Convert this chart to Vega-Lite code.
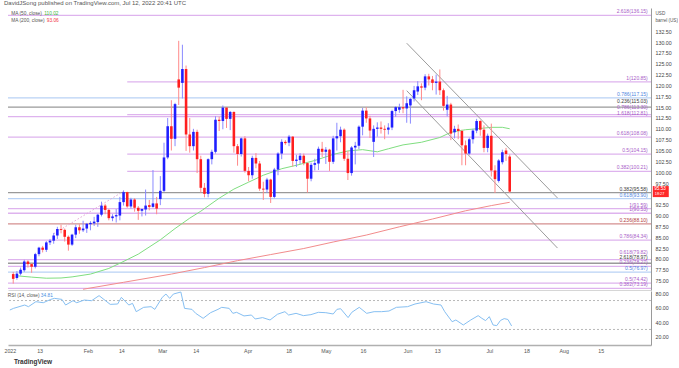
{
"$schema": "https://vega.github.io/schema/vega-lite/v6.json",
"padding": {"left": 3, "top": 0, "right": 0, "bottom": 0},
"background": "white",
"title": {"text": "DavidJSong published on TradingView.com, Jul 12, 2022 20:41 UTC", "anchor": "start", "fontSize": 6, "fontWeight": "normal", "color": "#555555", "font": "Liberation Sans", "offset": 2},
"config": {"view": {"stroke": null}, "font": "Liberation Sans", "axis": {"labelFont": "Liberation Sans", "titleFont": "Liberation Sans", "labelOverlap": false}},
"spacing": 0,
"datasets": {
"ohlc": [
{"d":"2022-01-03","o":76.5,"h":77.0,"l":74.3,"c":75.4},
{"d":"2022-01-04","o":75.6,"h":77.2,"l":75.2,"c":76.6},
{"d":"2022-01-05","o":76.6,"h":78.0,"l":76.2,"c":77.5},
{"d":"2022-01-06","o":77.4,"h":79.8,"l":77.0,"c":79.4},
{"d":"2022-01-07","o":79.4,"h":79.7,"l":78.0,"c":78.8},
{"d":"2022-01-10","o":78.8,"h":79.0,"l":76.8,"c":78.2},
{"d":"2022-01-11","o":78.2,"h":81.4,"l":77.8,"c":81.1},
{"d":"2022-01-12","o":81.1,"h":82.8,"l":80.6,"c":82.6},
{"d":"2022-01-13","o":82.6,"h":83.0,"l":81.5,"c":82.1},
{"d":"2022-01-14","o":82.1,"h":84.1,"l":81.6,"c":83.8},
{"d":"2022-01-17","o":83.8,"h":84.6,"l":83.2,"c":84.2},
{"d":"2022-01-18","o":84.2,"h":86.0,"l":83.5,"c":85.4},
{"d":"2022-01-19","o":85.4,"h":87.4,"l":84.6,"c":86.9},
{"d":"2022-01-20","o":86.9,"h":87.9,"l":85.9,"c":86.7},
{"d":"2022-01-21","o":86.7,"h":87.0,"l":84.0,"c":85.1},
{"d":"2022-01-24","o":85.1,"h":85.4,"l":81.9,"c":83.3},
{"d":"2022-01-25","o":83.3,"h":85.8,"l":83.0,"c":85.6},
{"d":"2022-01-26","o":85.6,"h":87.9,"l":84.8,"c":87.3},
{"d":"2022-01-27","o":87.3,"h":88.0,"l":85.8,"c":86.6},
{"d":"2022-01-28","o":86.6,"h":88.8,"l":86.2,"c":87.0},
{"d":"2022-01-31","o":87.0,"h":88.3,"l":86.0,"c":88.1},
{"d":"2022-02-01","o":88.0,"h":88.7,"l":86.6,"c":88.3},
{"d":"2022-02-02","o":88.2,"h":89.7,"l":87.6,"c":88.6},
{"d":"2022-02-03","o":88.5,"h":90.4,"l":87.4,"c":90.2},
{"d":"2022-02-04","o":90.2,"h":93.2,"l":89.8,"c":92.3},
{"d":"2022-02-07","o":92.3,"h":92.7,"l":90.3,"c":91.3},
{"d":"2022-02-08","o":91.3,"h":91.5,"l":88.9,"c":89.4},
{"d":"2022-02-09","o":89.4,"h":90.3,"l":88.7,"c":89.8},
{"d":"2022-02-10","o":89.8,"h":91.5,"l":88.4,"c":90.1},
{"d":"2022-02-11","o":90.0,"h":94.3,"l":88.9,"c":93.1},
{"d":"2022-02-14","o":93.1,"h":95.8,"l":92.3,"c":95.4},
{"d":"2022-02-15","o":95.4,"h":95.5,"l":91.8,"c":92.1},
{"d":"2022-02-16","o":92.1,"h":94.1,"l":91.6,"c":93.7},
{"d":"2022-02-17","o":93.7,"h":94.0,"l":90.9,"c":91.8},
{"d":"2022-02-18","o":91.8,"h":92.2,"l":89.0,"c":91.1},
{"d":"2022-02-21","o":91.1,"h":91.6,"l":89.8,"c":91.5},
{"d":"2022-02-22","o":91.4,"h":96.0,"l":90.0,"c":92.3},
{"d":"2022-02-23","o":92.4,"h":93.6,"l":91.2,"c":92.0},
{"d":"2022-02-24","o":92.0,"h":100.5,"l":91.8,"c":92.8},
{"d":"2022-02-25","o":92.8,"h":94.3,"l":90.3,"c":91.6},
{"d":"2022-02-28","o":93.8,"h":99.1,"l":92.4,"c":95.7},
{"d":"2022-03-01","o":95.7,"h":106.8,"l":95.4,"c":103.4},
{"d":"2022-03-02","o":103.4,"h":112.5,"l":103.0,"c":110.6},
{"d":"2022-03-03","o":110.6,"h":116.6,"l":105.0,"c":107.7},
{"d":"2022-03-04","o":107.7,"h":116.0,"l":106.0,"c":115.7},
{"d":"2022-03-07","o":121.4,"h":130.3,"l":115.5,"c":119.5},
{"d":"2022-03-08","o":120.6,"h":129.4,"l":117.0,"c":123.8},
{"d":"2022-03-09","o":123.8,"h":124.6,"l":104.9,"c":108.7},
{"d":"2022-03-10","o":108.7,"h":112.5,"l":104.5,"c":106.0},
{"d":"2022-03-11","o":106.0,"h":110.0,"l":105.0,"c":109.3},
{"d":"2022-03-14","o":109.3,"h":109.8,"l":99.8,"c":103.0},
{"d":"2022-03-15","o":103.0,"h":103.8,"l":95.3,"c":96.4},
{"d":"2022-03-16","o":96.4,"h":97.5,"l":94.2,"c":95.0},
{"d":"2022-03-17","o":95.0,"h":103.2,"l":94.2,"c":103.0},
{"d":"2022-03-18","o":103.0,"h":105.2,"l":101.8,"c":104.7},
{"d":"2022-03-21","o":104.7,"h":112.9,"l":104.3,"c":112.1},
{"d":"2022-03-22","o":112.1,"h":112.8,"l":109.5,"c":111.8},
{"d":"2022-03-23","o":111.8,"h":115.4,"l":109.9,"c":114.9},
{"d":"2022-03-24","o":114.9,"h":115.0,"l":110.2,"c":112.3},
{"d":"2022-03-25","o":112.3,"h":114.1,"l":109.7,"c":113.9},
{"d":"2022-03-28","o":113.9,"h":114.0,"l":104.5,"c":106.0},
{"d":"2022-03-29","o":106.0,"h":106.5,"l":101.5,"c":104.2},
{"d":"2022-03-30","o":104.2,"h":108.0,"l":103.6,"c":107.8},
{"d":"2022-03-31","o":107.8,"h":108.3,"l":99.9,"c":100.3},
{"d":"2022-04-01","o":100.3,"h":101.2,"l":97.9,"c":99.3},
{"d":"2022-04-04","o":99.3,"h":103.8,"l":98.5,"c":103.3},
{"d":"2022-04-05","o":103.3,"h":104.4,"l":100.9,"c":102.0},
{"d":"2022-04-06","o":102.0,"h":102.6,"l":95.7,"c":96.2},
{"d":"2022-04-07","o":96.2,"h":97.8,"l":93.6,"c":96.0},
{"d":"2022-04-08","o":96.0,"h":98.7,"l":95.2,"c":98.3},
{"d":"2022-04-11","o":98.3,"h":98.5,"l":92.9,"c":94.3},
{"d":"2022-04-12","o":94.3,"h":101.0,"l":94.0,"c":100.6},
{"d":"2022-04-13","o":100.6,"h":104.6,"l":99.3,"c":104.3},
{"d":"2022-04-14","o":104.3,"h":107.6,"l":103.0,"c":107.0},
{"d":"2022-04-15","o":107.0,"h":107.4,"l":106.3,"c":106.7},
{"d":"2022-04-18","o":106.8,"h":108.6,"l":106.0,"c":108.2},
{"d":"2022-04-19","o":108.2,"h":108.3,"l":101.3,"c":102.6},
{"d":"2022-04-20","o":102.6,"h":104.0,"l":101.2,"c":102.9},
{"d":"2022-04-21","o":102.8,"h":104.4,"l":101.9,"c":103.8},
{"d":"2022-04-22","o":103.8,"h":104.3,"l":101.6,"c":102.1},
{"d":"2022-04-25","o":102.1,"h":102.3,"l":95.3,"c":98.5},
{"d":"2022-04-26","o":98.5,"h":102.2,"l":97.9,"c":101.7},
{"d":"2022-04-27","o":101.7,"h":103.1,"l":100.4,"c":102.1},
{"d":"2022-04-28","o":102.0,"h":105.9,"l":100.5,"c":105.4},
{"d":"2022-04-29","o":105.4,"h":107.0,"l":103.5,"c":104.7},
{"d":"2022-05-02","o":104.7,"h":105.8,"l":101.9,"c":105.2},
{"d":"2022-05-03","o":105.2,"h":105.4,"l":100.3,"c":102.4},
{"d":"2022-05-04","o":102.4,"h":108.4,"l":101.9,"c":107.8},
{"d":"2022-05-05","o":107.8,"h":111.4,"l":105.0,"c":108.3},
{"d":"2022-05-06","o":108.3,"h":110.5,"l":106.9,"c":109.8},
{"d":"2022-05-09","o":109.8,"h":110.1,"l":102.6,"c":103.1},
{"d":"2022-05-10","o":103.1,"h":104.9,"l":98.2,"c":99.8},
{"d":"2022-05-11","o":99.8,"h":106.0,"l":99.2,"c":105.7},
{"d":"2022-05-12","o":105.7,"h":107.0,"l":101.8,"c":106.1},
{"d":"2022-05-13","o":106.1,"h":110.8,"l":105.3,"c":110.5},
{"d":"2022-05-16","o":110.5,"h":114.8,"l":108.5,"c":114.2},
{"d":"2022-05-17","o":114.2,"h":115.0,"l":111.4,"c":112.4},
{"d":"2022-05-18","o":112.4,"h":113.0,"l":107.9,"c":109.6},
{"d":"2022-05-19","o":107.0,"h":110.8,"l":103.5,"c":110.0},
{"d":"2022-05-20","o":110.0,"h":111.5,"l":108.2,"c":110.3},
{"d":"2022-05-23","o":110.3,"h":111.7,"l":108.9,"c":110.0},
{"d":"2022-05-24","o":110.0,"h":110.8,"l":107.6,"c":109.8},
{"d":"2022-05-25","o":109.8,"h":111.3,"l":108.7,"c":110.3},
{"d":"2022-05-26","o":110.3,"h":114.4,"l":109.7,"c":114.1},
{"d":"2022-05-27","o":114.1,"h":115.2,"l":112.8,"c":115.0},
{"d":"2022-05-30","o":114.4,"h":115.8,"l":113.7,"c":115.0},
{"d":"2022-05-31","o":115.0,"h":119.0,"l":113.6,"c":114.7},
{"d":"2022-06-01","o":114.7,"h":117.5,"l":111.4,"c":115.9},
{"d":"2022-06-02","o":115.4,"h":117.1,"l":111.2,"c":116.9},
{"d":"2022-06-03","o":117.0,"h":119.9,"l":116.3,"c":118.9},
{"d":"2022-06-06","o":118.6,"h":121.0,"l":117.8,"c":119.8},
{"d":"2022-06-07","o":119.8,"h":120.5,"l":116.6,"c":119.5},
{"d":"2022-06-08","o":119.5,"h":122.6,"l":118.9,"c":122.1},
{"d":"2022-06-09","o":122.1,"h":122.7,"l":120.0,"c":121.4},
{"d":"2022-06-10","o":121.4,"h":122.2,"l":118.9,"c":120.6},
{"d":"2022-06-13","o":120.6,"h":122.5,"l":117.9,"c":120.9},
{"d":"2022-06-14","o":120.9,"h":123.7,"l":117.8,"c":118.9},
{"d":"2022-06-15","o":118.9,"h":119.3,"l":114.2,"c":115.3},
{"d":"2022-06-16","o":114.4,"h":117.6,"l":112.9,"c":115.6},
{"d":"2022-06-17","o":115.6,"h":116.0,"l":107.4,"c":108.9},
{"d":"2022-06-20","o":109.2,"h":110.7,"l":107.8,"c":110.0},
{"d":"2022-06-21","o":110.0,"h":111.0,"l":107.6,"c":109.5},
{"d":"2022-06-22","o":109.5,"h":109.8,"l":101.6,"c":106.2},
{"d":"2022-06-23","o":106.2,"h":107.3,"l":101.6,"c":104.3},
{"d":"2022-06-24","o":104.3,"h":108.0,"l":104.0,"c":107.6},
{"d":"2022-06-27","o":107.6,"h":110.0,"l":106.6,"c":109.6},
{"d":"2022-06-28","o":109.6,"h":112.3,"l":109.0,"c":111.8},
{"d":"2022-06-29","o":111.8,"h":112.0,"l":108.4,"c":109.8},
{"d":"2022-06-30","o":109.8,"h":110.8,"l":104.6,"c":105.6},
{"d":"2022-07-01","o":105.6,"h":108.9,"l":104.6,"c":108.4},
{"d":"2022-07-05","o":108.4,"h":111.2,"l":99.0,"c":100.4},
{"d":"2022-07-06","o":100.4,"h":101.6,"l":95.2,"c":98.4},
{"d":"2022-07-07","o":98.0,"h":103.0,"l":97.6,"c":102.7},
{"d":"2022-07-08","o":102.3,"h":105.2,"l":101.8,"c":104.6},
{"d":"2022-07-11","o":105.0,"h":105.6,"l":102.6,"c":104.2},
{"d":"2022-07-12","o":103.6,"h":104.1,"l":95.2,"c":95.53}
],
"ma": [
{"ma":"MA 50","d":"2022-01-04","v":76.1},{"ma":"MA 50","d":"2022-01-10","v":75.8},{"ma":"MA 50","d":"2022-01-14","v":75.55},{"ma":"MA 50","d":"2022-01-20","v":75.6},{"ma":"MA 50","d":"2022-01-25","v":75.85},{"ma":"MA 50","d":"2022-02-01","v":76.5},{"ma":"MA 50","d":"2022-02-08","v":77.8},{"ma":"MA 50","d":"2022-02-11","v":79.0},{"ma":"MA 50","d":"2022-02-18","v":81.1},{"ma":"MA 50","d":"2022-02-28","v":84.4},{"ma":"MA 50","d":"2022-03-04","v":87.0},{"ma":"MA 50","d":"2022-03-10","v":89.4},{"ma":"MA 50","d":"2022-03-15","v":91.0},{"ma":"MA 50","d":"2022-03-22","v":94.0},{"ma":"MA 50","d":"2022-03-28","v":96.1},{"ma":"MA 50","d":"2022-04-01","v":97.7},{"ma":"MA 50","d":"2022-04-07","v":99.3},{"ma":"MA 50","d":"2022-04-14","v":100.8},{"ma":"MA 50","d":"2022-04-20","v":101.6},{"ma":"MA 50","d":"2022-04-27","v":102.7},{"ma":"MA 50","d":"2022-05-04","v":104.1},{"ma":"MA 50","d":"2022-05-10","v":104.9},{"ma":"MA 50","d":"2022-05-16","v":105.2},{"ma":"MA 50","d":"2022-05-20","v":104.7},{"ma":"MA 50","d":"2022-05-25","v":105.4},{"ma":"MA 50","d":"2022-05-31","v":106.3},{"ma":"MA 50","d":"2022-06-07","v":106.9},{"ma":"MA 50","d":"2022-06-14","v":108.0},{"ma":"MA 50","d":"2022-06-17","v":109.2},{"ma":"MA 50","d":"2022-06-23","v":109.8},{"ma":"MA 50","d":"2022-06-28","v":110.0},{"ma":"MA 50","d":"2022-07-05","v":110.35},{"ma":"MA 50","d":"2022-07-08","v":110.35},{"ma":"MA 50","d":"2022-07-12","v":110.02},
{"ma":"MA 200","d":"2022-01-28","v":73.0},{"ma":"MA 200","d":"2022-02-14","v":74.6},{"ma":"MA 200","d":"2022-03-03","v":76.5},{"ma":"MA 200","d":"2022-03-16","v":78.0},{"ma":"MA 200","d":"2022-03-29","v":79.6},{"ma":"MA 200","d":"2022-04-11","v":81.0},{"ma":"MA 200","d":"2022-04-22","v":82.4},{"ma":"MA 200","d":"2022-05-04","v":83.9},{"ma":"MA 200","d":"2022-05-17","v":85.5},{"ma":"MA 200","d":"2022-05-30","v":87.4},{"ma":"MA 200","d":"2022-06-10","v":89.2},{"ma":"MA 200","d":"2022-06-23","v":91.1},{"ma":"MA 200","d":"2022-07-05","v":92.3},{"ma":"MA 200","d":"2022-07-12","v":93.06}
],
"rsi": [
{"d":"2022-01-03","v":56.9},{"d":"2022-01-04","v":59.2},{"d":"2022-01-07","v":63.8},{"d":"2022-01-10","v":61.5},{"d":"2022-01-12","v":68.4},{"d":"2022-01-14","v":67.0},{"d":"2022-01-18","v":71.6},{"d":"2022-01-19","v":73.0},{"d":"2022-01-21","v":71.6},{"d":"2022-01-24","v":63.8},{"d":"2022-01-26","v":69.8},{"d":"2022-01-27","v":67.0},{"d":"2022-01-31","v":70.7},{"d":"2022-02-02","v":69.8},{"d":"2022-02-04","v":76.8},{"d":"2022-02-09","v":64.7},{"d":"2022-02-11","v":65.2},{"d":"2022-02-14","v":74.4},{"d":"2022-02-16","v":63.8},{"d":"2022-02-17","v":66.1},{"d":"2022-02-18","v":54.6},{"d":"2022-02-22","v":60.6},{"d":"2022-02-24","v":61.5},{"d":"2022-02-25","v":57.8},{"d":"2022-03-01","v":74.4},{"d":"2022-03-02","v":79.0},{"d":"2022-03-03","v":73.0},{"d":"2022-03-04","v":79.0},{"d":"2022-03-08","v":81.8},{"d":"2022-03-09","v":59.2},{"d":"2022-03-11","v":57.8},{"d":"2022-03-14","v":52.3},{"d":"2022-03-16","v":45.4},{"d":"2022-03-18","v":53.2},{"d":"2022-03-22","v":57.8},{"d":"2022-03-23","v":60.6},{"d":"2022-03-25","v":59.2},{"d":"2022-03-28","v":52.3},{"d":"2022-03-29","v":53.7},{"d":"2022-03-31","v":48.7},{"d":"2022-04-04","v":50.0},{"d":"2022-04-05","v":44.5},{"d":"2022-04-07","v":46.4},{"d":"2022-04-11","v":43.1},{"d":"2022-04-13","v":51.0},{"d":"2022-04-15","v":54.6},{"d":"2022-04-18","v":50.0},{"d":"2022-04-20","v":52.3},{"d":"2022-04-22","v":49.1},{"d":"2022-04-26","v":50.5},{"d":"2022-04-28","v":53.7},{"d":"2022-05-02","v":53.2},{"d":"2022-05-04","v":51.4},{"d":"2022-05-05","v":57.8},{"d":"2022-05-06","v":58.7},{"d":"2022-05-10","v":46.4},{"d":"2022-05-11","v":53.7},{"d":"2022-05-13","v":60.6},{"d":"2022-05-17","v":52.3},{"d":"2022-05-19","v":54.6},{"d":"2022-05-23","v":54.6},{"d":"2022-05-25","v":55.5},{"d":"2022-05-27","v":60.6},{"d":"2022-06-01","v":61.5},{"d":"2022-06-03","v":65.2},{"d":"2022-06-08","v":68.4},{"d":"2022-06-10","v":65.2},{"d":"2022-06-14","v":63.8},{"d":"2022-06-15","v":54.6},{"d":"2022-06-17","v":40.7},{"d":"2022-06-20","v":43.1},{"d":"2022-06-22","v":36.2},{"d":"2022-06-24","v":43.1},{"d":"2022-06-28","v":49.1},{"d":"2022-06-29","v":45.4},{"d":"2022-06-30","v":42.2},{"d":"2022-07-01","v":47.7},{"d":"2022-07-05","v":36.2},{"d":"2022-07-06","v":35.3},{"d":"2022-07-07","v":42.5},{"d":"2022-07-08","v":45.0},{"d":"2022-07-11","v":43.8},{"d":"2022-07-12","v":34.81}
],
"fib": [
{"y":136.15,"label":"2.618(136.15)","tool":"A"},
{"y":120.85,"label":"1(120.85)","tool":"A","d":"2022-02-15"},
{"y":117.15,"label":"0.786(117.15)","tool":"B"},
{"y":115.03,"label":"0.236(115.03)","tool":"C"},
{"y":113.3,"label":"0.786(113.30)","tool":"A","d":"2022-02-15"},
{"y":112.81,"label":"1.618(112.81)","tool":"A"},
{"y":108.08,"label":"0.618(108.08)","tool":"A"},
{"y":104.15,"label":"0.5(104.15)","tool":"A","d":"2022-02-15"},
{"y":100.21,"label":"0.382(100.21)","tool":"A","d":"2022-02-15"},
{"y":95.3,"label":"0.382(95.58)","tool":"C"},
{"y":93.9,"label":"0.618(93.90)","tool":"B"},
{"y":91.59,"label":"1(91.59)","tool":"A"},
{"y":90.53,"label":"1(90.53)","tool":"A"},
{"y":88.1,"label":"0.236(88.10)","tool":"D"},
{"y":84.34,"label":"0.786(84.34)","tool":"A"},
{"y":79.82,"label":"0.618(79.82)","tool":"A"},
{"y":79.0,"label":"2.618(78.97)","tool":"C"},
{"y":78.27,"label":"0.236(78.27)","tool":"A"},
{"y":76.97,"label":"0.5(76.97)","tool":"B"},
{"y":74.42,"label":"0.5(74.42)","tool":"A"},
{"y":73.19,"label":"0.382(73.19)","tool":"A"}
],
"channel": [
{"line":"upper","d":"2022-06-01","v":129.75},{"line":"upper","d":"2022-07-29","v":94.05},
{"line":"lower","d":"2022-06-01","v":118.8},{"line":"lower","d":"2022-07-29","v":82.5}
],
"trend": [{"d":"2022-01-18","v":85.8},{"d":"2022-02-14","v":95.6}],
"last": [{"d":"2022-09-01","v":95.53,"price":"95.53","timer":"18:27"}]
},
"vconcat": [
{
"width": 643, "height": 282,
"layer": [
{
"data": {"name": "fib"},
"transform": [{"filter": "!datum.d"}],
"mark": {"type": "rule", "strokeWidth": 1.3},
"encoding": {
"y": {"field": "y", "type": "quantitative", "scale": {"domain": [72.83, 137.87], "nice": false, "zero": false},
"axis": {"orient": "right", "values": [75,77.5,80,82.5,85,87.5,90,92.5,97.5,100,102.5,105,107.5,110,112.5,115,117.5,120,122.5,125,127.5,130,132.5], "tickCount": 40, "format": ".2f", "labelFontSize": 5.3, "labelColor": "#444444", "ticks": false, "labelPadding": 4, "labelOverlap": false, "domainColor": "#9a9a9a", "grid": false,
"title": ["USD", "barrel (US)"], "titleAngle": 0, "titleAlign": "left", "titleBaseline": "top", "titleX": 4, "titleY": 2, "titleFontSize": 4.6, "titleFontWeight": "normal", "titleColor": "#555555", "titleLineHeight": 7}},
"color": {"field": "tool", "type": "nominal", "scale": {"domain": ["A","B","C","D"], "range": ["#deb3ee","#b9d2f5","#9a9a9a","#d48f8f"]}, "legend": null}
}
},
{
"encoding": {"x": {"field": "d", "type": "ordinal",
"scale": {"paddingInner": 0, "paddingOuter": 0.92, "domain": ["2022-01-03","2022-01-04","2022-01-05","2022-01-06","2022-01-07","2022-01-10","2022-01-11","2022-01-12","2022-01-13","2022-01-14","2022-01-17","2022-01-18","2022-01-19","2022-01-20","2022-01-21","2022-01-24","2022-01-25","2022-01-26","2022-01-27","2022-01-28","2022-01-31","2022-02-01","2022-02-02","2022-02-03","2022-02-04","2022-02-07","2022-02-08","2022-02-09","2022-02-10","2022-02-11","2022-02-14","2022-02-15","2022-02-16","2022-02-17","2022-02-18","2022-02-21","2022-02-22","2022-02-23","2022-02-24","2022-02-25","2022-02-28","2022-03-01","2022-03-02","2022-03-03","2022-03-04","2022-03-07","2022-03-08","2022-03-09","2022-03-10","2022-03-11","2022-03-14","2022-03-15","2022-03-16","2022-03-17","2022-03-18","2022-03-21","2022-03-22","2022-03-23","2022-03-24","2022-03-25","2022-03-28","2022-03-29","2022-03-30","2022-03-31","2022-04-01","2022-04-04","2022-04-05","2022-04-06","2022-04-07","2022-04-08","2022-04-11","2022-04-12","2022-04-13","2022-04-14","2022-04-15","2022-04-18","2022-04-19","2022-04-20","2022-04-21","2022-04-22","2022-04-25","2022-04-26","2022-04-27","2022-04-28","2022-04-29","2022-05-02","2022-05-03","2022-05-04","2022-05-05","2022-05-06","2022-05-09","2022-05-10","2022-05-11","2022-05-12","2022-05-13","2022-05-16","2022-05-17","2022-05-18","2022-05-19","2022-05-20","2022-05-23","2022-05-24","2022-05-25","2022-05-26","2022-05-27","2022-05-30","2022-05-31","2022-06-01","2022-06-02","2022-06-03","2022-06-06","2022-06-07","2022-06-08","2022-06-09","2022-06-10","2022-06-13","2022-06-14","2022-06-15","2022-06-16","2022-06-17","2022-06-20","2022-06-21","2022-06-22","2022-06-23","2022-06-24","2022-06-27","2022-06-28","2022-06-29","2022-06-30","2022-07-01","2022-07-05","2022-07-06","2022-07-07","2022-07-08","2022-07-11","2022-07-12","2022-07-13","2022-07-14","2022-07-15","2022-07-18","2022-07-19","2022-07-20","2022-07-21","2022-07-22","2022-07-25","2022-07-26","2022-07-27","2022-07-28","2022-07-29","2022-08-01","2022-08-02","2022-08-03","2022-08-04","2022-08-05","2022-08-08","2022-08-09","2022-08-10","2022-08-11","2022-08-12","2022-08-15","2022-08-16","2022-08-17","2022-08-18","2022-08-19","2022-08-22","2022-08-23","2022-08-24","2022-08-25","2022-08-26","2022-08-29","2022-08-30","2022-08-31","2022-09-01"]},
"axis": {"labels": false, "ticks": false, "title": null, "grid": false, "domainColor": "#d6d6d6"}}},
"layer": [
{
"data": {"name": "fib"},
"transform": [{"filter": "datum.d"}],
"mark": {"type": "rule", "strokeWidth": 1.3},
"encoding": {
"x2": {"value": "width"},
"y": {"field": "y", "type": "quantitative", "scale": {"domain": [72.83, 137.87], "nice": false, "zero": false}},
"color": {"field": "tool", "type": "nominal", "legend": null}
}
},
{
"data": {"name": "fib"},
"transform": [{"filter": "datum.y != 113.3 && datum.y != 115.03 && datum.y != 79.82 && datum.y != 79.0"}],
"mark": {"type": "text", "align": "right", "baseline": "bottom", "dx": 2, "dy": -1, "fontSize": 5},
"encoding": {
"x": {"datum": "2022-09-01", "type": "ordinal"},
"y": {"field": "y", "type": "quantitative", "scale": {"domain": [72.83, 137.87], "nice": false, "zero": false}},
"text": {"field": "label"},
"fill": {"field": "tool", "type": "nominal", "scale": {"domain": ["A","B","C","D"], "range": ["#a85cc8","#4f86e0","#3a3a3a","#b03a3a"]}, "legend": null}
}
},
{
"data": {"name": "fib"},
"transform": [{"filter": "datum.y == 115.03 || datum.y == 79.0"}],
"mark": {"type": "text", "align": "right", "baseline": "bottom", "dx": 2, "dy": -2.8, "fontSize": 5},
"encoding": {
"x": {"datum": "2022-09-01", "type": "ordinal"},
"y": {"field": "y", "type": "quantitative", "scale": {"domain": [72.83, 137.87], "nice": false, "zero": false}},
"text": {"field": "label"},
"fill": {"field": "tool", "type": "nominal", "legend": null}
}
},
{
"data": {"name": "fib"},
"transform": [{"filter": "datum.y == 113.3 || datum.y == 79.82"}],
"mark": {"type": "text", "align": "right", "baseline": "bottom", "dx": 2, "dy": -4.5, "fontSize": 5},
"encoding": {
"x": {"datum": "2022-09-01", "type": "ordinal"},
"y": {"field": "y", "type": "quantitative", "scale": {"domain": [72.83, 137.87], "nice": false, "zero": false}},
"text": {"field": "label"},
"fill": {"field": "tool", "type": "nominal", "legend": null}
}
},
{
"data": {"name": "trend"},
"mark": {"type": "line", "strokeDash": [1.5, 2], "strokeWidth": 1, "color": "#e3a3d6"},
"encoding": {"y": {"field": "v", "type": "quantitative", "scale": {"domain": [72.83, 137.87], "nice": false, "zero": false}}}
},
{
"data": {"name": "ma"},
"mark": {"type": "line", "strokeWidth": 1, "clip": true},
"encoding": {
"y": {"field": "v", "type": "quantitative", "scale": {"domain": [72.83, 137.87], "nice": false, "zero": false}},
"stroke": {"field": "ma", "type": "nominal", "scale": {"domain": ["MA 50","MA 200"], "range": ["#80de80","#f28c8c"]}, "legend": null}
}
},
{
"data": {"name": "channel"},
"mark": {"type": "line", "strokeWidth": 1, "color": "#9c9c9c"},
"encoding": {
"y": {"field": "v", "type": "quantitative", "scale": {"domain": [72.83, 137.87], "nice": false, "zero": false}},
"detail": {"field": "line"}
}
},
{
"data": {"name": "ohlc"},
"mark": {"type": "rule", "strokeWidth": 1},
"encoding": {
"y": {"field": "l", "type": "quantitative", "scale": {"domain": [72.83, 137.87], "nice": false, "zero": false}},
"y2": {"field": "h"},
"color": {"condition": {"test": "datum.c >= datum.o", "value": "#8a8aff"}, "value": "#ff8a8a"}
}
},
{
"data": {"name": "ohlc"},
"mark": {"type": "bar", "width": {"band": 0.7}},
"encoding": {
"y": {"field": "o", "type": "quantitative", "scale": {"domain": [72.83, 137.87], "nice": false, "zero": false}},
"y2": {"field": "c"},
"color": {"condition": {"test": "datum.c >= datum.o", "value": "#1f1fff"}, "value": "#ff1f1f"}
}
},
{
"data": {"values": [{}]},
"mark": {"type": "text", "text": "MA (50, close)", "align": "left", "baseline": "middle", "dx": -2, "fontSize": 4.8, "color": "#555555"},
"encoding": {"x": {"datum": "2022-01-03", "type": "ordinal"}, "y": {"datum": 136.6, "type": "quantitative"}}
},
{
"data": {"values": [{}]},
"mark": {"type": "text", "text": "110.02", "align": "left", "baseline": "middle", "dx": 31, "fontSize": 4.8, "color": "#3cb83c"},
"encoding": {"x": {"datum": "2022-01-03", "type": "ordinal"}, "y": {"datum": 136.6, "type": "quantitative"}}
},
{
"data": {"values": [{}]},
"mark": {"type": "text", "text": "MA (200, close)", "align": "left", "baseline": "middle", "dx": -2, "fontSize": 4.8, "color": "#555555"},
"encoding": {"x": {"datum": "2022-01-03", "type": "ordinal"}, "y": {"datum": 134.9, "type": "quantitative"}}
},
{
"data": {"values": [{}]},
"mark": {"type": "text", "text": "93.06", "align": "left", "baseline": "middle", "dx": 33.5, "fontSize": 4.8, "color": "#f23645"},
"encoding": {"x": {"datum": "2022-01-03", "type": "ordinal"}, "y": {"datum": 134.9, "type": "quantitative"}}
},
{
"data": {"name": "last"},
"mark": {"type": "point", "shape": "M0.875,-0.69H2.875V0.69H0.875Z", "size": 256, "filled": true, "opacity": 1, "color": "#ff2a2a", "strokeWidth": 0},
"encoding": {"y": {"field": "v", "type": "quantitative", "scale": {"domain": [72.83, 137.87], "nice": false, "zero": false}}}
},
{
"data": {"name": "last"},
"mark": {"type": "text", "align": "left", "baseline": "middle", "dx": 8.5, "dy": -2.4, "fontSize": 4.6, "color": "white"},
"encoding": {"y": {"field": "v", "type": "quantitative", "scale": {"domain": [72.83, 137.87], "nice": false, "zero": false}}, "text": {"field": "price"}}
},
{
"data": {"name": "last"},
"mark": {"type": "text", "align": "left", "baseline": "middle", "dx": 9, "dy": 2.8, "fontSize": 3.8, "color": "white"},
"encoding": {"y": {"field": "v", "type": "quantitative", "scale": {"domain": [72.83, 137.87], "nice": false, "zero": false}}, "text": {"field": "timer"}}
}
]
}
]
},
{
"width": 643, "height": 54,
"title": {"text": "TradingView", "orient": "bottom", "anchor": "start", "fontSize": 6.5, "fontWeight": "bold", "color": "#333333", "dx": 10, "offset": 6},
"layer": [
{
"data": {"values": [{"lvl": 70}, {"lvl": 30}]},
"mark": {"type": "rule", "strokeDash": [2, 2], "strokeWidth": 1, "color": "#b8b8b8"},
"encoding": {"y": {"field": "lvl", "type": "quantitative", "scale": {"domain": [8.5, 83.2], "nice": false, "zero": false},
"axis": {"orient": "right", "values": [20, 40, 60, 80], "tickCount": 10, "format": ".2f", "labelFontSize": 5.3, "labelColor": "#444444", "ticks": false, "labelPadding": 4, "labelOverlap": false, "domainColor": "#9a9a9a", "grid": false, "title": null}}}
},
{
"encoding": {"x": {"field": "d", "type": "ordinal",
"scale": {"paddingInner": 0, "paddingOuter": 0.92, "domain": ["2022-01-03","2022-01-04","2022-01-05","2022-01-06","2022-01-07","2022-01-10","2022-01-11","2022-01-12","2022-01-13","2022-01-14","2022-01-17","2022-01-18","2022-01-19","2022-01-20","2022-01-21","2022-01-24","2022-01-25","2022-01-26","2022-01-27","2022-01-28","2022-01-31","2022-02-01","2022-02-02","2022-02-03","2022-02-04","2022-02-07","2022-02-08","2022-02-09","2022-02-10","2022-02-11","2022-02-14","2022-02-15","2022-02-16","2022-02-17","2022-02-18","2022-02-21","2022-02-22","2022-02-23","2022-02-24","2022-02-25","2022-02-28","2022-03-01","2022-03-02","2022-03-03","2022-03-04","2022-03-07","2022-03-08","2022-03-09","2022-03-10","2022-03-11","2022-03-14","2022-03-15","2022-03-16","2022-03-17","2022-03-18","2022-03-21","2022-03-22","2022-03-23","2022-03-24","2022-03-25","2022-03-28","2022-03-29","2022-03-30","2022-03-31","2022-04-01","2022-04-04","2022-04-05","2022-04-06","2022-04-07","2022-04-08","2022-04-11","2022-04-12","2022-04-13","2022-04-14","2022-04-15","2022-04-18","2022-04-19","2022-04-20","2022-04-21","2022-04-22","2022-04-25","2022-04-26","2022-04-27","2022-04-28","2022-04-29","2022-05-02","2022-05-03","2022-05-04","2022-05-05","2022-05-06","2022-05-09","2022-05-10","2022-05-11","2022-05-12","2022-05-13","2022-05-16","2022-05-17","2022-05-18","2022-05-19","2022-05-20","2022-05-23","2022-05-24","2022-05-25","2022-05-26","2022-05-27","2022-05-30","2022-05-31","2022-06-01","2022-06-02","2022-06-03","2022-06-06","2022-06-07","2022-06-08","2022-06-09","2022-06-10","2022-06-13","2022-06-14","2022-06-15","2022-06-16","2022-06-17","2022-06-20","2022-06-21","2022-06-22","2022-06-23","2022-06-24","2022-06-27","2022-06-28","2022-06-29","2022-06-30","2022-07-01","2022-07-05","2022-07-06","2022-07-07","2022-07-08","2022-07-11","2022-07-12","2022-07-13","2022-07-14","2022-07-15","2022-07-18","2022-07-19","2022-07-20","2022-07-21","2022-07-22","2022-07-25","2022-07-26","2022-07-27","2022-07-28","2022-07-29","2022-08-01","2022-08-02","2022-08-03","2022-08-04","2022-08-05","2022-08-08","2022-08-09","2022-08-10","2022-08-11","2022-08-12","2022-08-15","2022-08-16","2022-08-17","2022-08-18","2022-08-19","2022-08-22","2022-08-23","2022-08-24","2022-08-25","2022-08-26","2022-08-29","2022-08-30","2022-08-31","2022-09-01"]},
"axis": {"values": ["2022-01-03","2022-01-13","2022-02-01","2022-02-14","2022-03-01","2022-03-14","2022-04-01","2022-04-18","2022-05-02","2022-05-16","2022-06-01","2022-06-13","2022-07-01","2022-07-18","2022-08-01","2022-08-15"],
"labelExpr": "datum.value == '2022-01-03' ? '2022' : (toNumber(slice(datum.value, 8, 10)) <= 2 ? ['Jan','Feb','Mar','Apr','May','Jun','Jul','Aug','Sep'][toNumber(slice(datum.value, 5, 7)) - 1] : '' + toNumber(slice(datum.value, 8, 10)))",
"labelAngle": 0, "labelFontSize": 5.3, "labelColor": "#555555", "ticks": false, "labelPadding": 3, "domainColor": "#b0b0b0", "domainWidth": 1.5, "grid": false, "title": null, "labelOverlap": false, "labelFlush": false}}},
"layer": [
{
"data": {"name": "rsi"},
"mark": {"type": "line", "strokeWidth": 1, "color": "#86bff2"},
"encoding": {"y": {"field": "v", "type": "quantitative", "scale": {"domain": [8.5, 83.2], "nice": false, "zero": false}}}
},
{
"data": {"values": [{}]},
"mark": {"type": "text", "text": "RSI (14, close)", "align": "left", "baseline": "middle", "dx": -2, "fontSize": 4.8, "color": "#555555"},
"encoding": {"x": {"datum": "2022-01-03", "type": "ordinal"}, "y": {"datum": 76.3, "type": "quantitative"}}
},
{
"data": {"values": [{}]},
"mark": {"type": "text", "text": "34.81", "align": "left", "baseline": "middle", "dx": 31, "fontSize": 4.8, "color": "#4a90e2"},
"encoding": {"x": {"datum": "2022-01-03", "type": "ordinal"}, "y": {"datum": 76.3, "type": "quantitative"}}
}
]
}
]
}
]
}
